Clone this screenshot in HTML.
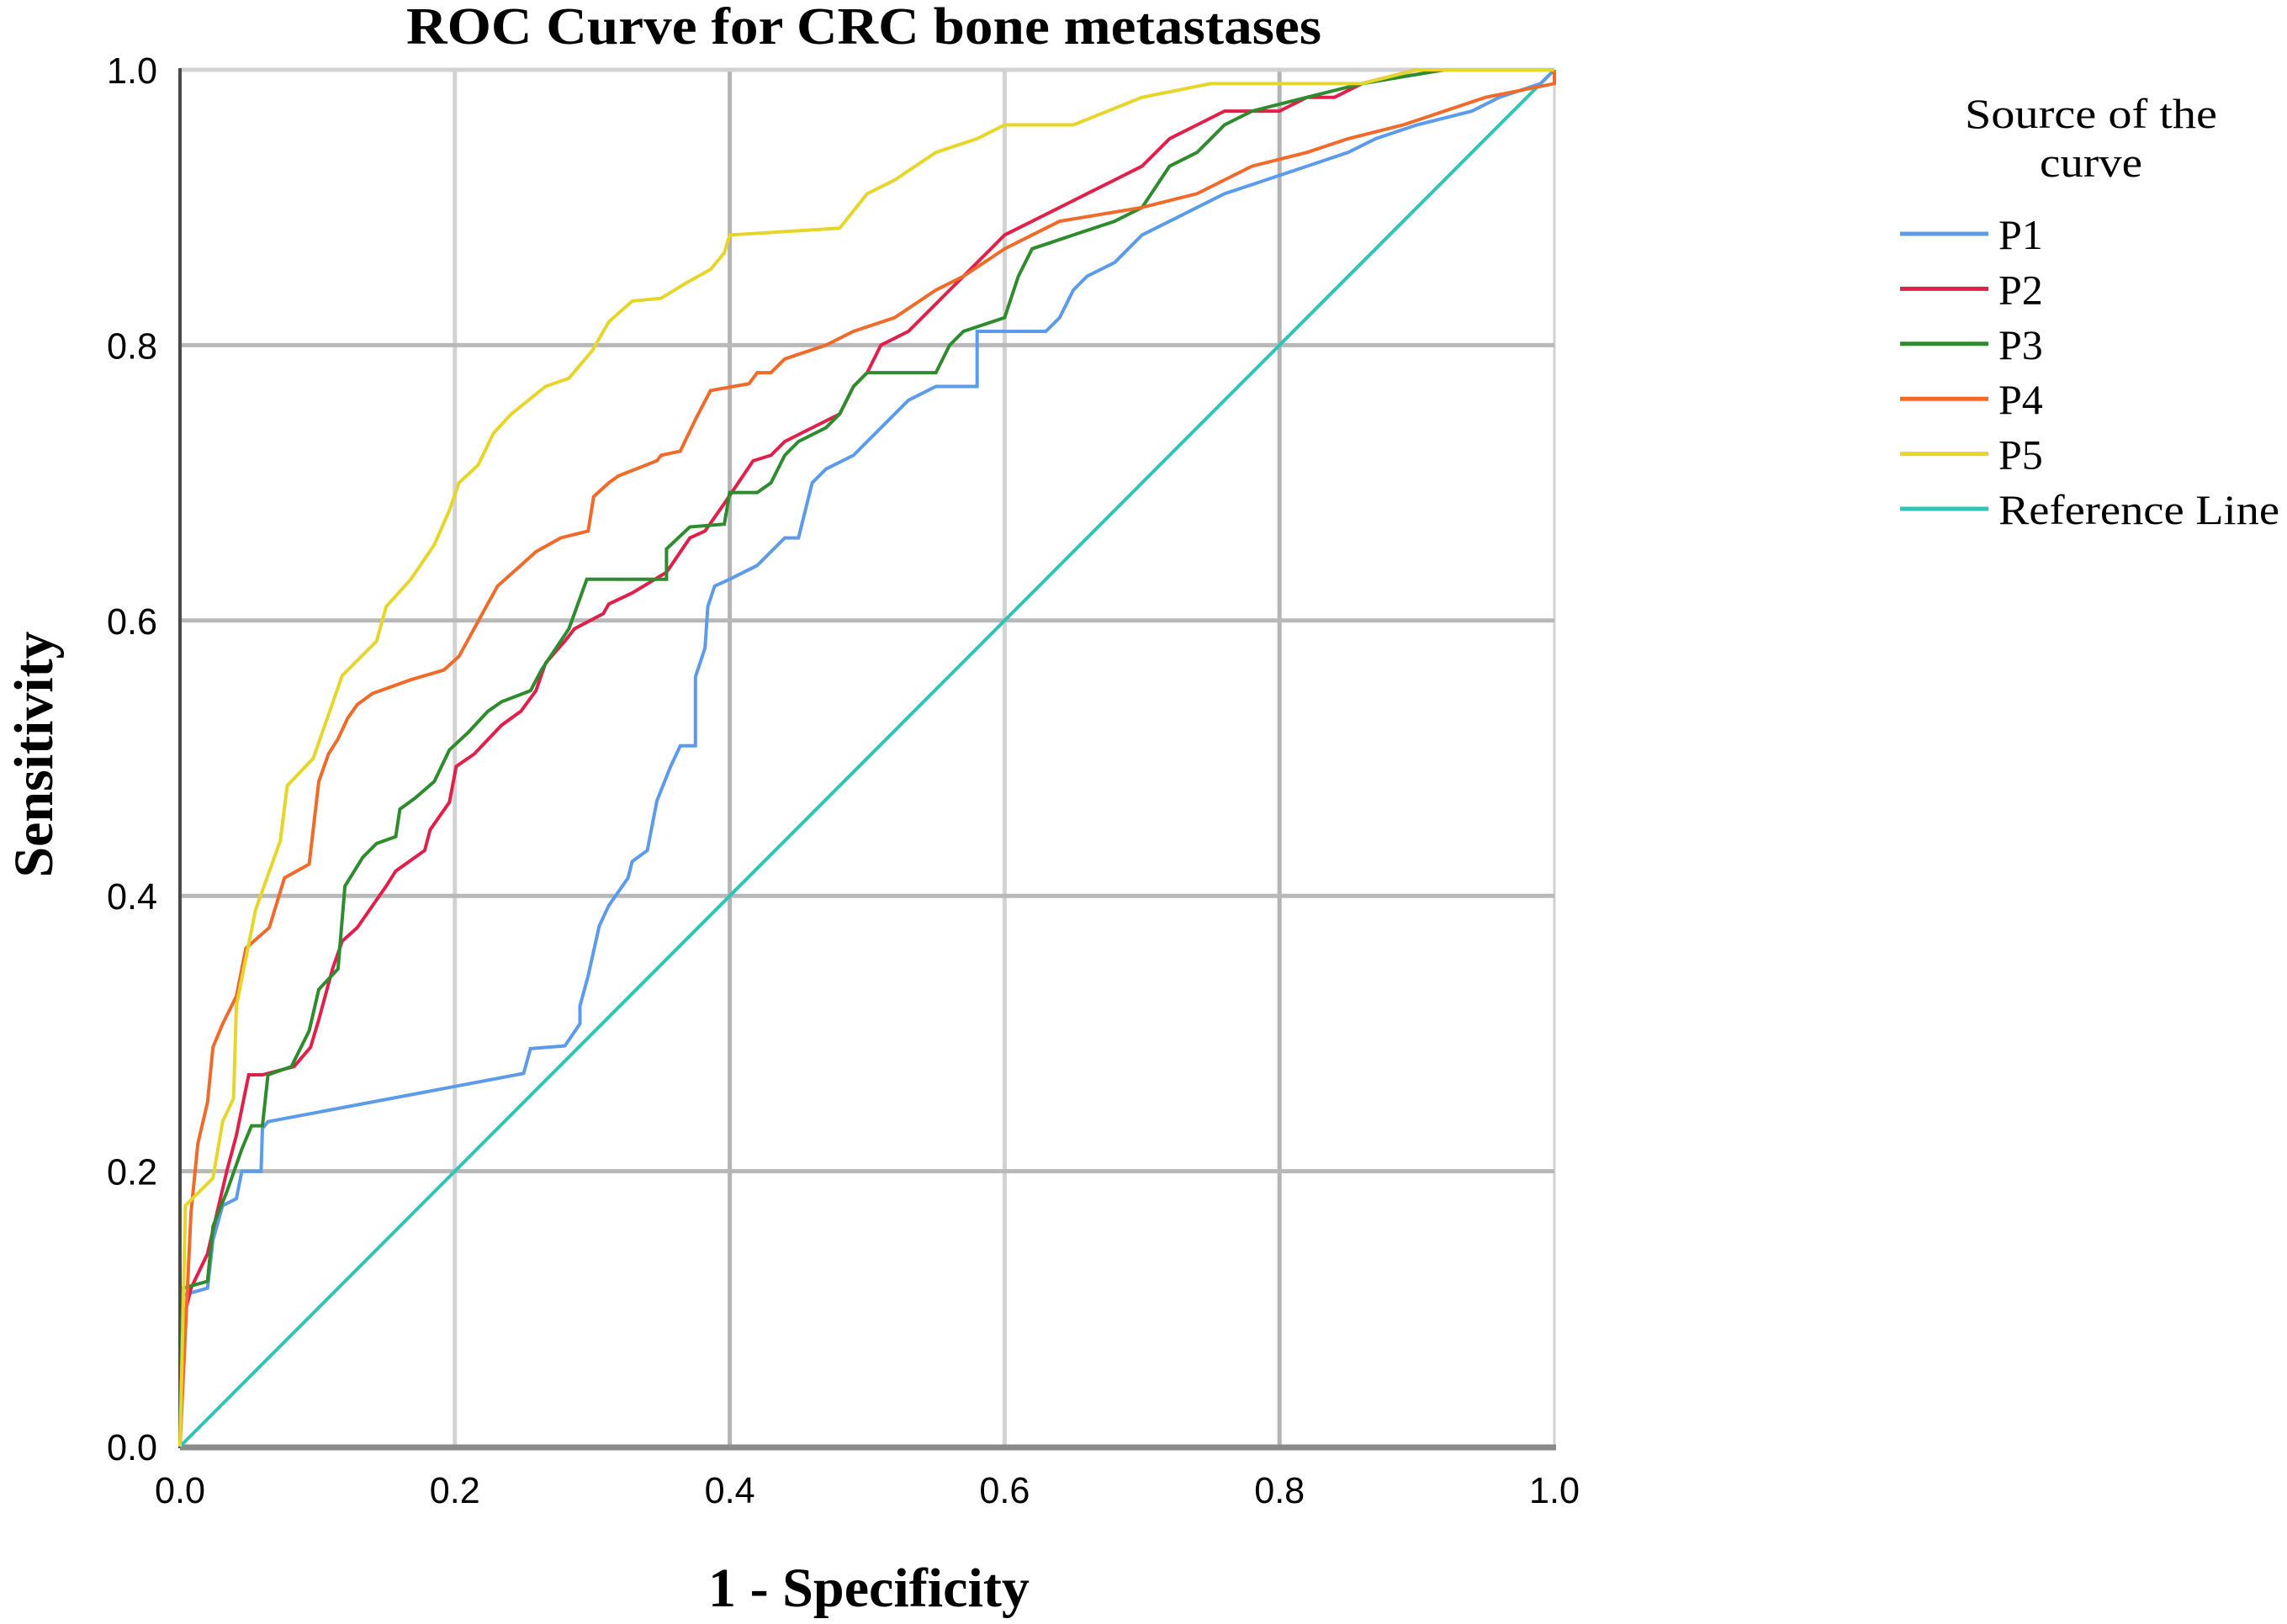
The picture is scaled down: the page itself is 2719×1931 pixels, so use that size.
<!DOCTYPE html>
<html><head><meta charset="utf-8"><style>
html,body{margin:0;padding:0;background:#fff;}
svg{display:block;}
text{font-family:"Liberation Serif",serif;fill:#000;}
.tick{font-family:"Liberation Sans",sans-serif;font-size:44px;}
</style></head><body>
<svg id="chart" width="2719" height="1931" viewBox="0 0 2719 1931" xmlns="http://www.w3.org/2000/svg">
<text x="1027" y="52" text-anchor="middle" font-size="62" font-weight="bold" textLength="1088" lengthAdjust="spacingAndGlyphs">ROC Curve for CRC bone metastases</text>
<g id="grid"></g>
<g id="axes"></g>
<g id="series"></g>
<text x="1033" y="1910" text-anchor="middle" font-size="66" font-weight="bold" textLength="382" lengthAdjust="spacingAndGlyphs">1 - Specificity</text>
<text transform="translate(62,897) rotate(-90)" text-anchor="middle" font-size="66" font-weight="bold" textLength="293" lengthAdjust="spacingAndGlyphs">Sensitivity</text>
<g id="legend">
<text x="2486" y="152" text-anchor="middle" font-size="50" textLength="300" lengthAdjust="spacingAndGlyphs">Source of the</text>
<text x="2486" y="210" text-anchor="middle" font-size="50" textLength="122" lengthAdjust="spacingAndGlyphs">curve</text>
</g>
</svg>
<script>
const xTicks = [0, 0.2, 0.4, 0.6, 0.8, 1.0];
const yTicks = [0, 0.2, 0.4, 0.6, 0.8, 1.0];
const tickLabels = ["0.0", "0.2", "0.4", "0.6", "0.8", "1.0"];
const seriesNames = ["P1", "P2", "P3", "P4", "P5", "Reference Line"];
const seriesColors = ["#5b9bea", "#e0204a", "#2e8b2e", "#f06a2a", "#e6d62a", "#2ec4b6"];
const p1 = [[0,0],[0.002,0.11],[0.02,0.115],[0.024,0.15],[0.031,0.175],[0.041,0.18],[0.045,0.2],[0.059,0.2],[0.06,0.231],[0.064,0.236],[0.25,0.271],[0.255,0.289],[0.28,0.291],[0.291,0.307],[0.291,0.32],[0.297,0.342],[0.305,0.378],[0.312,0.393],[0.326,0.413],[0.329,0.425],[0.34,0.433],[0.347,0.469],[0.357,0.494],[0.364,0.509],[0.375,0.509],[0.375,0.559],[0.382,0.58],[0.384,0.61],[0.389,0.625],[0.40,0.63],[0.42,0.64],[0.43,0.65],[0.44,0.66],[0.45,0.66],[0.46,0.70],[0.47,0.71],[0.49,0.72],[0.5,0.73],[0.52,0.75],[0.53,0.76],[0.55,0.77],[0.58,0.77],[0.58,0.81],[0.63,0.81],[0.64,0.82],[0.65,0.84],[0.66,0.85],[0.68,0.86],[0.7,0.88],[0.72,0.89],[0.74,0.90],[0.76,0.91],[0.79,0.92],[0.82,0.93],[0.85,0.94],[0.87,0.95],[0.9,0.96],[0.94,0.97],[0.96,0.98],[0.99,0.99],[1,1]];
const p2 = [[0,0],[0.002,0.09],[0.008,0.115],[0.02,0.14],[0.027,0.17],[0.034,0.2],[0.041,0.226],[0.05,0.27],[0.06,0.27],[0.083,0.276],[0.095,0.29],[0.101,0.31],[0.111,0.347],[0.118,0.367],[0.129,0.377],[0.136,0.387],[0.15,0.407],[0.157,0.418],[0.178,0.433],[0.182,0.448],[0.196,0.468],[0.201,0.494],[0.214,0.503],[0.234,0.524],[0.248,0.534],[0.259,0.549],[0.266,0.569],[0.28,0.585],[0.287,0.594],[0.308,0.605],[0.312,0.612],[0.329,0.62],[0.354,0.635],[0.371,0.66],[0.382,0.665],[0.396,0.685],[0.417,0.716],[0.43,0.72],[0.44,0.73],[0.46,0.74],[0.48,0.75],[0.49,0.77],[0.5,0.78],[0.51,0.80],[0.53,0.81],[0.55,0.83],[0.56,0.84],[0.58,0.86],[0.59,0.87],[0.6,0.88],[0.62,0.89],[0.64,0.90],[0.66,0.91],[0.68,0.92],[0.7,0.93],[0.72,0.95],[0.74,0.96],[0.76,0.97],[0.8,0.97],[0.82,0.98],[0.84,0.98],[0.86,0.99],[0.9,1.0],[1,1]];
const p3 = [[0,0],[0.002,0.115],[0.02,0.12],[0.024,0.16],[0.034,0.185],[0.045,0.216],[0.052,0.233],[0.06,0.233],[0.064,0.27],[0.081,0.276],[0.094,0.302],[0.101,0.332],[0.115,0.347],[0.12,0.407],[0.133,0.428],[0.143,0.438],[0.157,0.443],[0.16,0.463],[0.171,0.471],[0.185,0.483],[0.196,0.506],[0.21,0.519],[0.224,0.534],[0.234,0.541],[0.255,0.549],[0.263,0.564],[0.283,0.594],[0.296,0.63],[0.354,0.63],[0.354,0.652],[0.371,0.668],[0.396,0.67],[0.40,0.693],[0.42,0.693],[0.43,0.70],[0.44,0.72],[0.45,0.73],[0.47,0.74],[0.48,0.75],[0.49,0.77],[0.5,0.78],[0.55,0.78],[0.56,0.80],[0.57,0.81],[0.6,0.82],[0.61,0.85],[0.62,0.87],[0.65,0.88],[0.68,0.89],[0.7,0.90],[0.72,0.93],[0.74,0.94],[0.75,0.95],[0.76,0.96],[0.78,0.97],[0.82,0.98],[0.86,0.99],[0.92,1.0],[1,1]];
const p4 = [[0,0],[0.008,0.17],[0.013,0.22],[0.02,0.25],[0.024,0.29],[0.031,0.307],[0.041,0.327],[0.048,0.362],[0.065,0.377],[0.076,0.413],[0.094,0.423],[0.101,0.483],[0.108,0.503],[0.115,0.514],[0.122,0.529],[0.129,0.539],[0.14,0.547],[0.168,0.557],[0.192,0.564],[0.203,0.574],[0.22,0.605],[0.231,0.625],[0.248,0.64],[0.259,0.65],[0.277,0.66],[0.297,0.665],[0.301,0.69],[0.312,0.70],[0.319,0.705],[0.347,0.716],[0.35,0.72],[0.364,0.723],[0.375,0.746],[0.386,0.767],[0.414,0.772],[0.42,0.78],[0.43,0.78],[0.44,0.79],[0.47,0.80],[0.49,0.81],[0.52,0.82],[0.55,0.84],[0.57,0.85],[0.6,0.87],[0.62,0.88],[0.64,0.89],[0.7,0.90],[0.74,0.91],[0.78,0.93],[0.82,0.94],[0.85,0.95],[0.89,0.96],[0.95,0.98],[1,0.99],[1,1]];
const p5 = [[0,0],[0.004,0.175],[0.024,0.195],[0.031,0.236],[0.039,0.253],[0.041,0.32],[0.055,0.39],[0.073,0.44],[0.078,0.48],[0.097,0.50],[0.111,0.54],[0.118,0.56],[0.143,0.585],[0.15,0.61],[0.168,0.63],[0.185,0.655],[0.196,0.68],[0.203,0.70],[0.217,0.713],[0.228,0.736],[0.241,0.75],[0.266,0.77],[0.283,0.776],[0.30,0.796],[0.312,0.817],[0.329,0.832],[0.35,0.834],[0.368,0.845],[0.386,0.855],[0.396,0.867],[0.40,0.88],[0.48,0.885],[0.5,0.91],[0.52,0.92],[0.55,0.94],[0.58,0.95],[0.6,0.96],[0.65,0.96],[0.7,0.98],[0.75,0.99],[0.86,0.99],[0.9,1.0],[1,1]];
const refLine = [[0,0],[1,1]];
const allSeries = [p1, p2, p3, p4, p5, refLine];

const X0 = 214, X1 = 1848, Y0 = 1720, Y1 = 83;
function sx(v){ return X0 + v*(X1-X0); }
function sy(v){ return Y0 - v*(Y0-Y1); }
const NS = "http://www.w3.org/2000/svg";
function mk(tag, attrs, parent){ const e=document.createElementNS(NS,tag); for(const k in attrs) e.setAttribute(k,attrs[k]); parent.appendChild(e); return e; }

const grid = document.getElementById('grid');
xTicks.forEach((t,i)=>{
  if(t===0) return;
  const l = mk('line',{x1:sx(t),x2:sx(t),y1:sy(0),y2:sy(1),stroke:i%2?'#d2d2d2':'#b4b4b4','stroke-width':t===1?3:5},grid);
  
  
});
yTicks.forEach((t,i)=>{
  if(t===0) return;
  const l = mk('line',{x1:sx(0),x2:sx(1),y1:sy(t),y2:sy(t),stroke:t===1?'#d2d2d2':'#b8b8b8','stroke-width':5},grid);
  
  
});
const axes = document.getElementById('axes');
const ya = mk('line',{x1:sx(0),x2:sx(0),y1:sy(0)+2,y2:sy(1)-2,stroke:'#4a4a4a','stroke-width':4},axes);


const xa = mk('line',{x1:sx(0),x2:sx(1)+2,y1:sy(0)+1,y2:sy(0)+1,stroke:'#8a8a8a','stroke-width':7},axes);


xTicks.forEach((t,i)=>{
  const tx = mk('text',{x:sx(t),y:1787,'text-anchor':'middle','class':'tick',textLength:60,lengthAdjust:'spacingAndGlyphs'},axes);
  tx.textContent = tickLabels[i];
  
  
});
yTicks.forEach((t,i)=>{
  const tx = mk('text',{x:187,y:sy(t)+16,'text-anchor':'end','class':'tick',textLength:60,lengthAdjust:'spacingAndGlyphs'},axes);
  tx.textContent = tickLabels[i];
  
  
});
const series = document.getElementById('series');
const order = [5,0,1,2,3,4];
order.forEach(si=>{
  const d = allSeries[si].map((p,j)=>(j?'L':'M')+sx(p[0]).toFixed(1)+','+sy(p[1]).toFixed(1)).join(' ');
  const path = mk('path',{d:d,fill:'none',stroke:seriesColors[si],'stroke-width':4,'stroke-linejoin':'miter'},series);
  
  
});
const legend = document.getElementById('legend');
seriesNames.forEach((n,i)=>{
  const yy = 278 + i*65.4;
  const ln = mk('line',{x1:2259,x2:2364,y1:yy,y2:yy,stroke:seriesColors[i],'stroke-width':5},legend);
  
  
  const attrs = {x:2376,y:yy+18,'font-size':50};
  if(i===5){ attrs.textLength=334; attrs.lengthAdjust='spacingAndGlyphs'; }
  const tx = mk('text',attrs,legend);
  tx.textContent = n;
  
  
});
</script>
</body></html>
